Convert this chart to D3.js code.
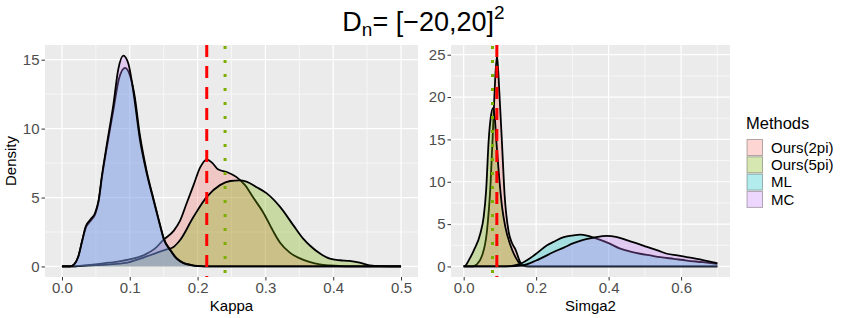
<!DOCTYPE html>
<html>
<head>
<meta charset="utf-8">
<script src="https://cdn.jsdelivr.net/npm/d3@7"></script>
<style>
  body { margin: 0; background: #fff; }
  text { font-family: "Liberation Sans", Arial, sans-serif; }
</style>
</head>
<body>
<svg id="chart" width="847" height="318"></svg>
<script>
var methods = ["Ours(2pi)", "Ours(5pi)", "ML", "MC"];
var methodColors = ["#F8766D", "#7CAE00", "#00BFC4", "#C77CFF"];

// density estimates, [value, density]
var kappaOurs2pi = [[0,0],[0.015,0],[0.03,0.06],[0.049,0.15],[0.07,0.27],[0.098,0.49],[0.122,0.85],[0.137,1.29],[0.15,1.95],[0.165,2.6],[0.174,3.3],[0.184,4.6],[0.194,5.9],[0.204,7.2],[0.2135,7.75],[0.222,7.5],[0.23,7.05],[0.243,6.85],[0.257,6.5],[0.27,5.9],[0.282,5.0],[0.297,3.9],[0.311,2.6],[0.322,1.7],[0.336,1.0],[0.35,0.6],[0.366,0.31],[0.38,0.15],[0.395,0.07],[0.42,0.01],[0.5,0]];
var kappaOurs5pi = [[0,0],[0.015,0],[0.03,0.04],[0.05,0.09],[0.075,0.17],[0.098,0.3],[0.122,0.68],[0.15,1.17],[0.164,1.4],[0.174,1.9],[0.194,3.6],[0.2135,5.05],[0.233,5.9],[0.248,6.2],[0.262,6.25],[0.272,6.15],[0.287,5.75],[0.302,5.3],[0.322,4.3],[0.341,3.0],[0.356,2.0],[0.366,1.5],[0.38,0.95],[0.395,0.56],[0.41,0.45],[0.424,0.4],[0.439,0.27],[0.454,0.08],[0.47,0.02],[0.5,0]];
var kappaML = [[0,0],[0.012,0],[0.018,0.15],[0.024,0.7],[0.03,1.9],[0.035,2.8],[0.042,3.3],[0.049,3.8],[0.054,4.7],[0.059,6.5],[0.066,8.6],[0.076,11.4],[0.084,13.6],[0.093,14.4],[0.1,13.9],[0.107,12.4],[0.115,9.5],[0.125,6.9],[0.135,4.9],[0.145,2.95],[0.15,2.05],[0.16,1.2],[0.169,0.6],[0.179,0.27],[0.19,0.12],[0.2,0.04],[0.22,0],[0.5,0]];
var kappaMC = [[0,0],[0.012,0],[0.018,0.15],[0.024,0.7],[0.03,1.9],[0.035,2.9],[0.042,3.4],[0.049,3.9],[0.054,4.8],[0.059,6.6],[0.066,8.8],[0.076,11.8],[0.083,14.3],[0.0905,15.3],[0.098,14.7],[0.105,12.8],[0.115,9.2],[0.125,6.75],[0.135,4.8],[0.145,2.9],[0.15,2.0],[0.16,1.15],[0.169,0.56],[0.179,0.24],[0.19,0.1],[0.2,0.03],[0.22,0],[0.5,0]];

var sigmaOurs2pi = [[0,0],[0.025,0],[0.035,0.2],[0.05,1.2],[0.064,4.1],[0.074,9.6],[0.083,18.3],[0.087,22.2],[0.092,24.9],[0.0985,20.5],[0.106,14.3],[0.113,8.4],[0.124,4.1],[0.133,2.8],[0.143,2.0],[0.156,0.5],[0.165,0.1],[0.18,0],[0.7,0]];
var sigmaOurs5pi = [[0,0],[0.005,0.1],[0.015,0.8],[0.028,1.9],[0.046,3.9],[0.055,5.8],[0.062,9.0],[0.069,14.9],[0.075,17.7],[0.081,18.7],[0.086,17.5],[0.09,14.9],[0.097,11],[0.106,7],[0.115,4.65],[0.129,2.5],[0.143,1.1],[0.156,0.3],[0.17,0.05],[0.19,0],[0.7,0]];
var sigmaML = [[0,0],[0.1,0],[0.13,0.05],[0.156,0.3],[0.184,1.0],[0.2,1.5],[0.23,2.5],[0.248,2.9],[0.276,3.45],[0.3,3.65],[0.322,3.75],[0.34,3.65],[0.359,3.4],[0.4,2.75],[0.432,2.1],[0.46,1.75],[0.487,1.5],[0.515,1.3],[0.543,1.1],[0.58,0.9],[0.616,0.7],[0.66,0.5],[0.7,0.3]];
var sigmaMC = [[0,0],[0.12,0],[0.16,0.1],[0.2,0.7],[0.248,1.7],[0.275,2.2],[0.303,2.75],[0.33,3.15],[0.359,3.4],[0.395,3.6],[0.42,3.5],[0.45,3.1],[0.48,2.7],[0.506,2.3],[0.535,1.9],[0.561,1.5],[0.59,1.3],[0.616,1.1],[0.66,0.75],[0.7,0.4]];

// reference lines: red dashed, green dotted
var kappaRef = [0.2135, 0.2405];
var sigmaRef = [0.0915, 0.0795];

var kappaXTicks = [0, 0.1, 0.2, 0.3, 0.4, 0.5];
var kappaYTicks = [0, 5, 10, 15];
var sigmaXTicks = [0, 0.2, 0.4, 0.6];
var sigmaYTicks = [0, 5, 10, 15, 20, 25];

var svg = d3.select("#chart");

function expand(lo, hi) {
  var pad = (hi - lo) * 0.05;
  return [lo - pad, hi + pad];
}

function drawPanel(p) {
  var ymax = d3.max(p.series, function(s) { return d3.max(s, function(d) { return d[1]; }); });
  var x = d3.scaleLinear().domain(expand(p.xlim[0], p.xlim[1])).range([p.left, p.right]);
  var y = d3.scaleLinear().domain(expand(0, ymax)).range([p.bottom, p.top]);

  var g = svg.append("g");
  g.append("rect")
      .attr("x", p.left).attr("y", p.top)
      .attr("width", p.right - p.left).attr("height", p.bottom - p.top)
      .attr("fill", "#EBEBEB");

  // minor grid, midpoints between majors
  var step = p.xTicks[1] - p.xTicks[0];
  var xMinor = d3.range(p.xTicks[0] - step / 2, x.domain()[1], step).filter(function(v) { return v > x.domain()[0]; });
  var ystep = p.yTicks[1] - p.yTicks[0];
  var yMinor = d3.range(p.yTicks[0] - ystep / 2, y.domain()[1], ystep).filter(function(v) { return v > y.domain()[0]; });

  g.selectAll(".xminor").data(xMinor).enter().append("line")
      .attr("x1", x).attr("x2", x).attr("y1", p.top).attr("y2", p.bottom)
      .attr("stroke", "#fff").attr("stroke-width", 0.6);
  g.selectAll(".yminor").data(yMinor).enter().append("line")
      .attr("y1", y).attr("y2", y).attr("x1", p.left).attr("x2", p.right)
      .attr("stroke", "#fff").attr("stroke-width", 0.6);
  g.selectAll(".xmajor").data(p.xTicks).enter().append("line")
      .attr("x1", x).attr("x2", x).attr("y1", p.top).attr("y2", p.bottom)
      .attr("stroke", "#fff").attr("stroke-width", 1.2);
  g.selectAll(".ymajor").data(p.yTicks).enter().append("line")
      .attr("y1", y).attr("y2", y).attr("x1", p.left).attr("x2", p.right)
      .attr("stroke", "#fff").attr("stroke-width", 1.2);

  var area = d3.area()
      .x(function(d) { return x(d[0]); })
      .y0(y(0))
      .y1(function(d) { return y(d[1]); })
      .curve(d3.curveMonotoneX);
  var line = area.lineY1();

  p.series.forEach(function(s, i) {
    g.append("path").datum(s)
        .attr("d", area)
        .attr("fill", methodColors[i])
        .attr("fill-opacity", 0.3);
    g.append("path").datum(s)
        .attr("d", line)
        .attr("fill", "none")
        .attr("stroke", "#000")
        .attr("stroke-width", 1.8);
  });

  g.append("line")
      .attr("x1", x(p.ref[0])).attr("x2", x(p.ref[0]))
      .attr("y1", p.top).attr("y2", p.bottom)
      .attr("stroke", "#FF0000").attr("stroke-width", 3)
      .attr("stroke-dasharray", "12,9");
  g.append("line")
      .attr("x1", x(p.ref[1])).attr("x2", x(p.ref[1]))
      .attr("y1", p.top + 1).attr("y2", p.bottom)
      .attr("stroke", "#7CAE00").attr("stroke-width", 3)
      .attr("stroke-dasharray", "3,11");

  var xAxis = g.append("g")
      .attr("transform", "translate(0," + p.bottom + ")")
      .call(d3.axisBottom(x).tickValues(p.xTicks).tickSize(3.5).tickPadding(2)
        .tickFormat(d3.format(".1f")));
  var yAxis = g.append("g")
      .attr("transform", "translate(" + p.left + ",0)")
      .call(d3.axisLeft(y).tickValues(p.yTicks).tickSize(3.5).tickPadding(2));
  [xAxis, yAxis].forEach(function(a) {
    a.select(".domain").remove();
    a.selectAll(".tick line").attr("stroke", "#333333").attr("stroke-width", 1);
    a.selectAll(".tick text")
        .attr("fill", "#4D4D4D")
        .style("font-size", "15px")
        .style("font-family", "'Liberation Sans', Arial, sans-serif");
  });

  svg.append("text")
      .attr("x", (p.left + p.right) / 2)
      .attr("y", 311)
      .attr("text-anchor", "middle")
      .style("font-size", "15px")
      .text(p.xTitle);
  return { x: x, y: y };
}

drawPanel({
  left: 45, right: 418, top: 45, bottom: 277,
  xlim: [0, 0.5],
  series: [kappaOurs2pi, kappaOurs5pi, kappaML, kappaMC],
  ref: kappaRef,
  xTicks: kappaXTicks, yTicks: kappaYTicks,
  xTitle: "Kappa"
});
drawPanel({
  left: 451, right: 730, top: 45, bottom: 277,
  xlim: [0, 0.7],
  series: [sigmaOurs2pi, sigmaOurs5pi, sigmaML, sigmaMC],
  ref: sigmaRef,
  xTicks: sigmaXTicks, yTicks: sigmaYTicks,
  xTitle: "Simga2"
});

svg.append("text")
    .attr("transform", "translate(16,161) rotate(-90)")
    .attr("text-anchor", "middle")
    .style("font-size", "15px")
    .text("Density");

// title: D_n = [-20,20]^2
var title = svg.append("text")
    .attr("x", 423.5).attr("y", 31)
    .attr("text-anchor", "middle")
    .style("font-size", "27px");
title.append("tspan").text("D");
title.append("tspan").attr("dy", 5).style("font-size", "19px").text("n");
title.append("tspan").attr("dy", -5).text("= [\u221220,20]");
title.append("tspan").attr("dy", -12).style("font-size", "19px").text("2");

// legend
var legend = svg.append("g").attr("transform", "translate(746,0)");
legend.append("text")
    .attr("x", 0).attr("y", 129)
    .style("font-size", "16.5px")
    .text("Methods");
var keys = legend.selectAll(".key").data(methods).enter().append("g")
    .attr("transform", function(d, i) { return "translate(0," + (139 + i * 17.3) + ")"; });
keys.append("rect")
    .attr("x", 1).attr("y", 0.5).attr("width", 15.5).attr("height", 16)
    .attr("fill", function(d, i) { return methodColors[i]; })
    .attr("fill-opacity", 0.3)
    .attr("stroke", "#000").attr("stroke-opacity", 0.3);
keys.append("text")
    .attr("x", 25).attr("y", 8.5)
    .attr("dy", "0.35em")
    .style("font-size", "15px")
    .text(function(d) { return d; });
</script>
</body>
</html>
